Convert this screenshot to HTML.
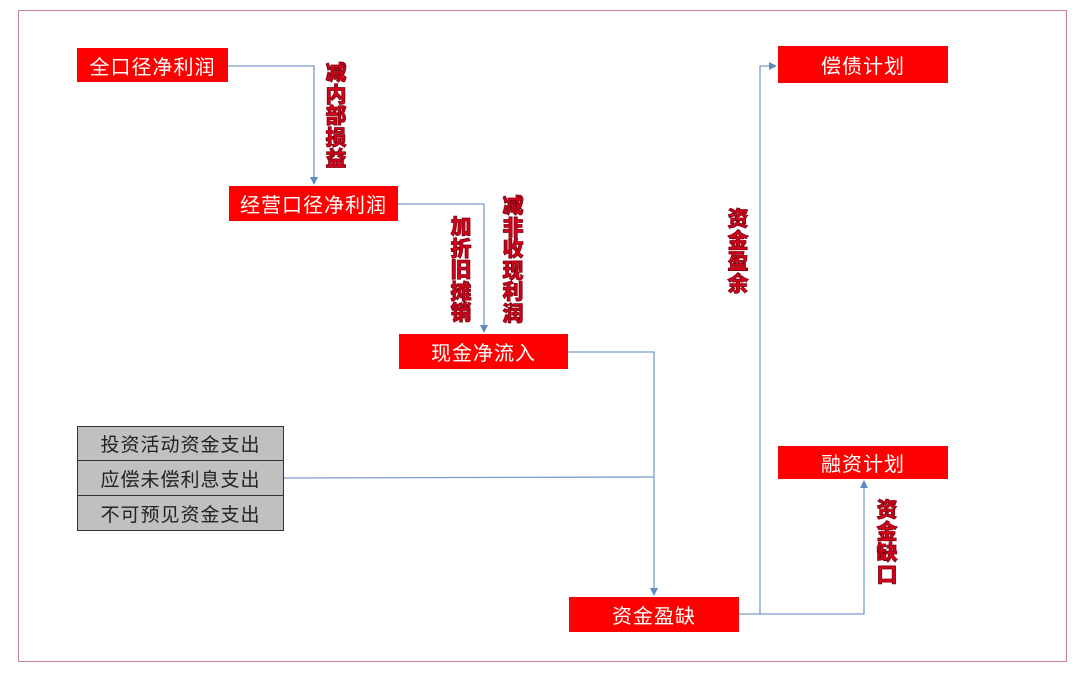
<!DOCTYPE html>
<html><head><meta charset="utf-8"><style>
html,body{margin:0;padding:0;background:#fff;}
body{width:1080px;height:681px;position:relative;overflow:hidden;font-family:"Liberation Sans","Noto Sans CJK SC",sans-serif;}
.frame{position:absolute;left:18px;top:10px;width:1049px;height:652px;border:1.5px solid #c4868e;box-sizing:border-box;}
.r{position:absolute;background:#fe0000;color:#fff;font-size:20px;display:flex;align-items:center;justify-content:center;letter-spacing:1px;}
.g{position:absolute;background:#c0c0c0;border:1px solid #333;color:#222;font-size:19px;display:flex;align-items:center;justify-content:center;box-sizing:border-box;letter-spacing:1px;}
.v{position:absolute;width:24px;font-size:21px;line-height:21.5px;font-weight:900;color:#d3001a;text-align:center;-webkit-text-stroke:0.8px #7a0010;}
svg{position:absolute;left:0;top:0;}
</style></head><body>
<div class="frame"></div>
<svg width="1080" height="681">
<defs><marker id="a" markerWidth="8" markerHeight="8" refX="7" refY="4" orient="auto" markerUnits="userSpaceOnUse"><path d="M0,0 L8,4 L0,8 z" fill="#5f8cc0"/></marker></defs>
<g fill="none" stroke="#7a9cc6" stroke-width="1.3">
<polyline points="228,66 314,66 314,184" marker-end="url(#a)"/>
<polyline points="398,204 484,204 484,332" marker-end="url(#a)"/>
<polyline points="568,352 654,352 654,595" marker-end="url(#a)"/>
<polyline points="284,478 654,477"/>
<polyline points="739,614 760,614 760,66 776,66" marker-end="url(#a)"/>
<polyline points="760,614 864,614 864,481" marker-end="url(#a)"/>
</g>
</svg>
<div class="r" style="left:77px;top:48px;width:151px;height:34px;">全口径净利润</div>
<div class="r" style="left:229px;top:186px;width:169px;height:35px;">经营口径净利润</div>
<div class="r" style="left:399px;top:334px;width:169px;height:35px;">现金净流入</div>
<div class="r" style="left:569px;top:597px;width:170px;height:35px;">资金盈缺</div>
<div class="r" style="left:778px;top:46px;width:170px;height:37px;">偿债计划</div>
<div class="r" style="left:778px;top:446px;width:170px;height:33px;">融资计划</div>
<div class="g" style="left:77px;top:426px;width:207px;height:35px;">投资活动资金支出</div>
<div class="g" style="left:77px;top:460px;width:207px;height:36px;">应偿未偿利息支出</div>
<div class="g" style="left:77px;top:495px;width:207px;height:36px;">不可预见资金支出</div>
<div class="v" style="left:324px;top:63px;">减<br>内<br>部<br>损<br>益</div>
<div class="v" style="left:449px;top:217px;">加<br>折<br>旧<br>摊<br>销</div>
<div class="v" style="left:501px;top:196px;">减<br>非<br>收<br>现<br>利<br>润</div>
<div class="v" style="left:726px;top:209px;">资<br>金<br>盈<br>余</div>
<div class="v" style="left:875px;top:500px;">资<br>金<br>缺<br>口</div>
</body></html>
